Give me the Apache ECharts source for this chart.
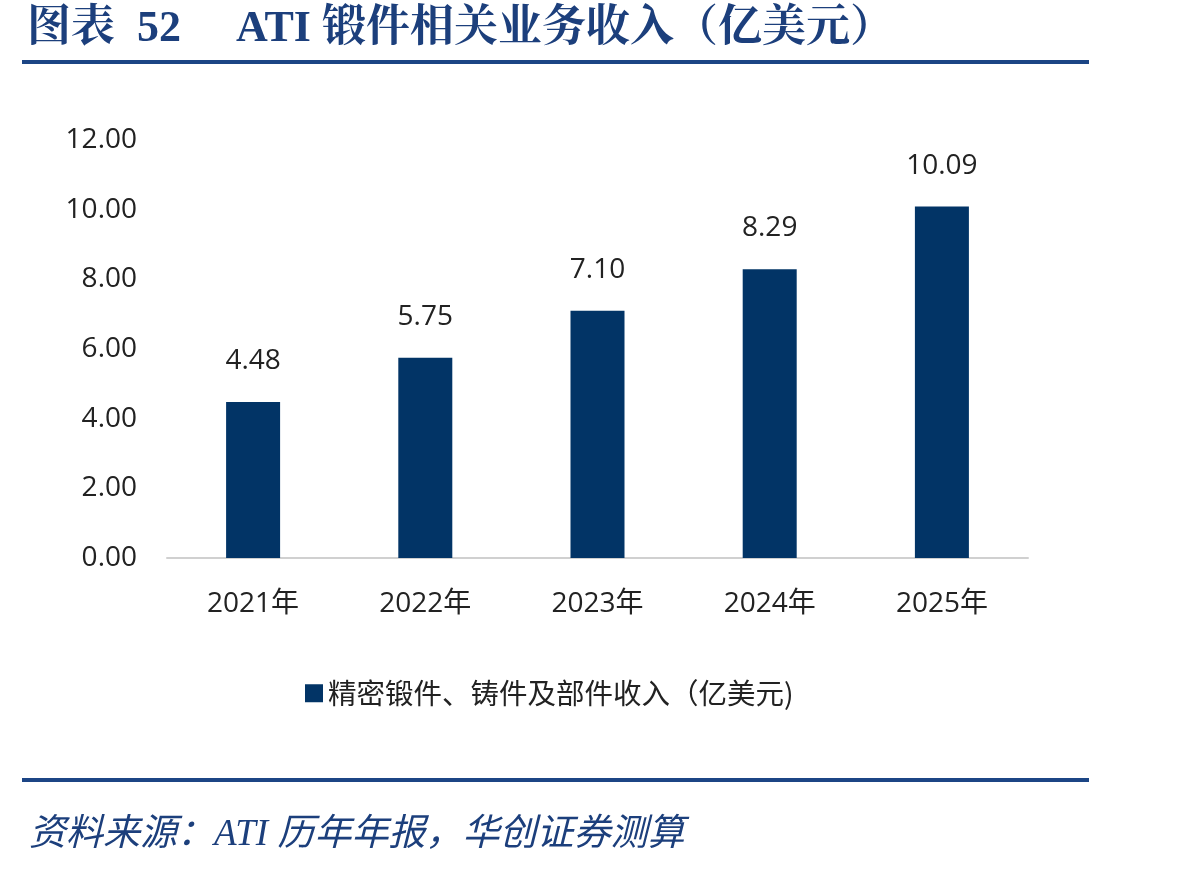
<!DOCTYPE html>
<html>
<head>
<meta charset="utf-8">
<script src="https://cdn.jsdelivr.net/npm/echarts@6/dist/echarts.min.js"></script>
<style>
html, body { margin: 0; padding: 0; background: #fff; }
#chart { width: 1198px; height: 872px; }
</style>
</head>
<body>
<div id="chart"></div>
<script>
var years = ['2021年', '2022年', '2023年', '2024年', '2025年'];
var revenue = [4.48, 5.75, 7.10, 8.29, 10.09];
var seriesName = '精密锻件、铸件及部件收入（亿美元)';

var chart = echarts.init(document.getElementById('chart'));
var option = {
	animation: false,
	title: [{
		text: '图表  52     ATI 锻件相关业务收入（亿美元）',
		left: 22,
		top: 3,
		textStyle: {
			fontFamily: '"Liberation Serif", "Noto Serif CJK SC", "Noto Sans CJK SC", serif',
			fontWeight: 'bold',
			fontSize: 44,
			color: '#1c3f7c'
		}
	}, {
		text: '资料来源：ATI 历年年报，华创证券测算',
		left: 24,
		top: 812,
		textStyle: {
			fontFamily: '"Liberation Serif", "Noto Sans CJK SC", serif',
			fontStyle: 'italic',
			fontWeight: 'normal',
			fontSize: 37,
			color: '#1c3f7c'
		}
	}],
	graphic: [{
		type: 'rect',
		shape: { x: 22, y: 60, width: 1067, height: 4 },
		style: { fill: '#1c4585' }
	}, {
		type: 'rect',
		shape: { x: 22, y: 778, width: 1067, height: 4 },
		style: { fill: '#1c4585' }
	}],
	legend: {
		data: [seriesName],
		left: 300,
		top: 674,
		icon: 'rect',
		itemWidth: 18,
		itemHeight: 18,
		itemGap: 6,
		textStyle: {
			fontFamily: '"Noto Sans CJK SC", sans-serif',
			fontSize: 28.5,
			color: '#222'
		}
	},
	grid: {
		left: 167,
		right: 170,
		top: 140,
		bottom: 314
	},
	xAxis: {
		type: 'category',
		data: years,
		axisLine: { lineStyle: { color: '#d0d0d0', width: 2 } },
		axisTick: { show: false },
		axisLabel: {
			margin: 32,
			fontFamily: '"Open Sans", "Noto Sans CJK SC", sans-serif',
			fontSize: 28,
			color: '#222'
		}
	},
	yAxis: {
		type: 'value',
		min: 0,
		max: 12,
		interval: 2,
		splitLine: { show: false },
		axisLine: { show: false },
		axisTick: { show: false },
		axisLabel: {
			margin: 30,
			formatter: function (v) { return v.toFixed(2); },
			fontFamily: '"Open Sans", sans-serif',
			fontSize: 28,
			color: '#222'
		}
	},
	series: [{
		name: seriesName,
		type: 'bar',
		data: revenue,
		barWidth: 54,
		itemStyle: { color: '#023466' },
		label: {
			show: true,
			position: 'top',
			distance: 27,
			formatter: function (p) { return p.value.toFixed(2); },
			fontFamily: '"Open Sans", sans-serif',
			fontSize: 28,
			color: '#222'
		}
	}]
};
chart.setOption(option);
</script>
</body>
</html>
